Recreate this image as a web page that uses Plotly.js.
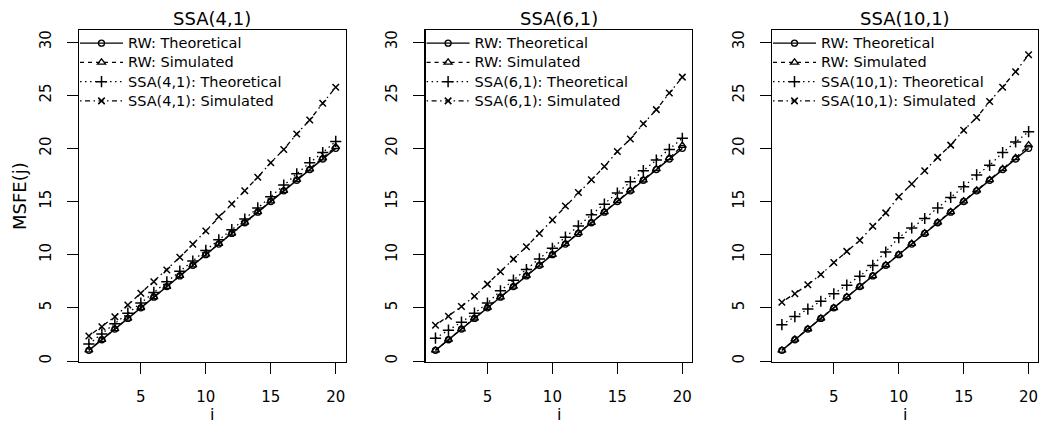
<!DOCTYPE html>
<html>
<head>
<meta charset="utf-8">
<script src="https://cdn.plot.ly/plotly-3.0.1.min.js"></script>
<style>
html,body{margin:0;padding:0;background:#ffffff;}
#chart{width:1039px;height:423px;}
#chart text.legendtext, #chart text.legend2text, #chart text.legend3text{font-size:14.5px !important;}
#chart g.scrollbox{clip-path:none !important;}
</style>
</head>
<body>
<div id="chart"></div>
<script>
// ---------- data ----------
const steps = [1,2,3,4,5,6,7,8,9,10,11,12,13,14,15,16,17,18,19,20];
const panelTitles = ["SSA(4,1)", "SSA(6,1)", "SSA(10,1)"];
const xTickVals = [5,10,15,20];
const yTickVals = [0,5,10,15,20,25,30];
const xAxisLabel = "i";
const yAxisLabel = "MSFE(j)";

const rwTheoretical = [1,2,3,4,5,6,7,8,9,10,11,12,13,14,15,16,17,18,19,20];

// Panel 1: SSA(4,1)
const rwSimulated_p1 = [1.02,2.01,3.02,4.00,5.01,6.02,7.00,8.03,9.01,10.02,11.04,12.01,13.03,14.02,15.04,16.03,17.05,18.04,19.08,20.15];
const ssaTheoretical_p1 = [1.60,2.55,3.50,4.50,5.45,6.45,7.45,8.45,9.40,10.40,11.40,12.35,13.35,14.40,15.45,16.55,17.60,18.65,19.60,20.65];
const ssaSimulated_p1 = [2.35,3.23,4.17,5.27,6.37,7.46,8.56,9.75,10.98,12.23,13.57,14.77,16.02,17.28,18.65,19.90,21.35,22.67,24.24,25.75];

// Panel 2: SSA(6,1)
const rwSimulated_p2 = [1.01,2.02,3.00,4.02,5.03,6.01,7.02,8.04,9.02,10.01,11.03,12.05,13.02,14.03,15.06,16.04,17.02,18.06,19.10,20.25];
const ssaTheoretical_p2 = [2.15,2.90,3.65,4.50,5.45,6.60,7.60,8.60,9.60,10.60,11.65,12.70,13.75,14.75,15.80,16.85,17.90,18.90,19.90,20.95];
const ssaSimulated_p2 = [3.36,4.21,5.12,6.09,7.23,8.39,9.58,10.75,12.00,13.26,14.58,15.84,17.04,18.29,19.70,20.88,22.32,23.64,25.20,26.70];

// Panel 3: SSA(10,1)
const rwSimulated_p3 = [1.00,2.03,3.01,4.02,5.00,6.03,7.02,8.01,9.03,10.02,11.04,12.03,13.05,14.02,15.04,16.06,17.03,18.07,19.10,20.30];
const ssaTheoretical_p3 = [3.42,4.18,4.88,5.62,6.32,7.13,7.98,8.99,10.25,11.60,12.51,13.40,14.40,15.38,16.38,17.50,18.40,19.60,20.60,21.57];
const ssaSimulated_p3 = [5.53,6.32,7.17,8.14,9.27,10.31,11.36,12.67,13.93,15.44,16.64,17.90,19.15,20.30,21.70,22.90,24.40,25.75,27.20,28.80];

const rwSim = [rwSimulated_p1, rwSimulated_p2, rwSimulated_p3];
const ssaTheo = [ssaTheoretical_p1, ssaTheoretical_p2, ssaTheoretical_p3];
const ssaSim = [ssaSimulated_p1, ssaSimulated_p2, ssaSimulated_p3];

// ---------- styling ----------
const FONT = "DejaVu Sans, Liberation Sans, Arial, sans-serif";
const W = 1039, H = 423;
const boxLeft = [79, 425.6, 772];
const boxWidth = 266.6;
const boxTop = 30, boxBottom = 362;
const yDomain = [(H - boxBottom) / H, (H - boxTop) / H];

const traces = [];
const layout = {
  width: W, height: H,
  margin: {l: 0, r: 0, t: 0, b: 0, pad: 0},
  paper_bgcolor: "#ffffff",
  plot_bgcolor: "#ffffff",
  font: {family: FONT, size: 15, color: "#000000"},
  annotations: [],
  showlegend: true
};

for (let p = 0; p < 3; p++) {
  const sfx = p === 0 ? "" : String(p + 1);
  const xa = "x" + sfx, ya = "y" + sfx;
  const lg = "legend" + sfx;
  const common = {xaxis: xa, yaxis: ya, legend: lg, type: "scatter", mode: "lines+markers", hoverinfo: "skip", cliponaxis: false};
  traces.push(Object.assign({}, common, {
    name: "RW: Theoretical", x: steps, y: rwTheoretical,
    line: {color: "#000", width: 1.4, dash: "solid"},
    marker: {symbol: "circle-open", size: 6, color: "#000", line: {color: "#000", width: 1.3}}
  }));
  traces.push(Object.assign({}, common, {
    name: "RW: Simulated", x: steps, y: rwSim[p],
    line: {color: "#000", width: 1.3, dash: "4px,4px"},
    marker: {symbol: "triangle-up-open", size: 7, color: "#000", line: {color: "#000", width: 1.3}}
  }));
  traces.push(Object.assign({}, common, {
    name: panelTitles[p] + ": Theoretical", x: steps, y: ssaTheo[p],
    line: {color: "#000", width: 1.3, dash: "1.5px,3.5px"},
    marker: {symbol: "cross-thin-open", size: 8, color: "#000", line: {color: "#000", width: 1.5}}
  }));
  traces.push(Object.assign({}, common, {
    name: panelTitles[p] + ": Simulated", x: steps, y: ssaSim[p],
    line: {color: "#000", width: 1.3, dash: "1.5px,3.5px,5px,3.5px"},
    marker: {symbol: "x-thin-open", size: 6.5, color: "#000", line: {color: "#000", width: 1.5}}
  }));

  const x0 = boxLeft[p] / W;
  const x1 = Math.min((boxLeft[p] + boxWidth) / W, 0.9995);
  layout["xaxis" + sfx] = {
    domain: [x0, x1], anchor: ya, range: [0.24, 20.76],
    tickmode: "array", tickvals: xTickVals, ticktext: xTickVals.map(String),
    ticks: "outside", ticklen: 11, tickwidth: 1, tickcolor: "#000",
    ticklabelstandoff: 10,
    showline: true, linecolor: "#000", linewidth: 1.2, mirror: true,
    showgrid: false, zeroline: false,
    tickfont: {family: FONT, size: 15, color: "#000"}
  };
  layout["yaxis" + sfx] = {
    domain: yDomain, anchor: xa, range: [-0.094, 31.13],
    tickmode: "array", tickvals: yTickVals, ticktext: yTickVals.map(String),
    ticks: "outside", ticklen: 11, tickwidth: 1, tickcolor: "#000",
    tickangle: -90, ticklabelstandoff: 10,
    showline: true, linecolor: "#000", linewidth: 1.2, mirror: true,
    showgrid: false, zeroline: false,
    tickfont: {family: FONT, size: 15, color: "#000"}
  };
  layout[lg] = {
    x: (boxLeft[p] - 4) / W, y: (H - boxTop + 1.5) / H, xanchor: "left", yanchor: "top",
    xref: "paper", yref: "paper",
    bgcolor: "rgba(0,0,0,0)", borderwidth: 0,
    font: {family: FONT, size: 12.5, color: "#000"},
    tracegroupgap: 0, itemwidth: 43, traceorder: "normal"
  };
  // panel title
  layout.annotations.push({
    text: panelTitles[p], xref: "paper", yref: "paper",
    x: (boxLeft[p] + boxWidth / 2) / W, y: (H - 19) / H,
    xanchor: "center", yanchor: "middle", showarrow: false,
    font: {family: FONT, size: 18, color: "#000"}
  });
  // x-axis label
  layout.annotations.push({
    text: xAxisLabel, xref: "paper", yref: "paper",
    x: (boxLeft[p] + boxWidth / 2) / W, y: (H - 414) / H,
    xanchor: "center", yanchor: "middle", showarrow: false,
    font: {family: FONT, size: 16, color: "#000"}
  });
}
// y-axis label (first panel only)
layout.annotations.push({
  text: yAxisLabel, xref: "paper", yref: "paper",
  x: 19 / W, y: (H - 196) / H, textangle: -90,
  xanchor: "center", yanchor: "middle", showarrow: false,
  font: {family: FONT, size: 18, color: "#000"}
});

Plotly.newPlot("chart", traces, layout, {staticPlot: true, displayModeBar: false});
</script>
</body>
</html>
